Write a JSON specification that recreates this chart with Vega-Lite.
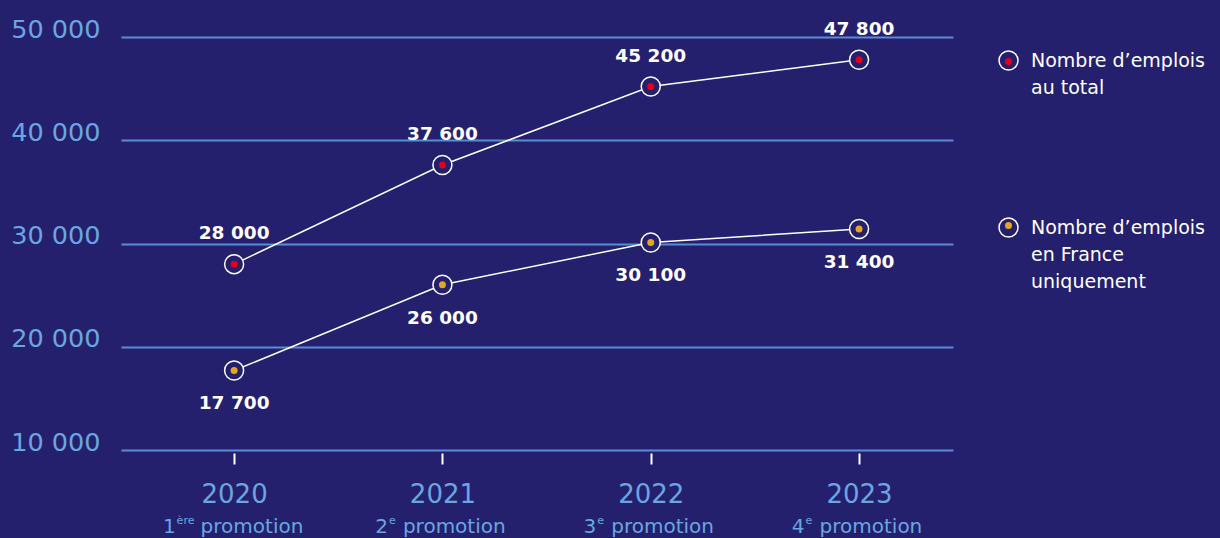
{
  "$schema": "https://vega.github.io/schema/vega-lite/v6.json",
  "width": 832,
  "height": 413,
  "autosize": {"type": "none"},
  "padding": {"left": 121, "top": 37, "right": 267, "bottom": 88},
  "background": "#24206e",
  "config": {
    "view": {"stroke": null},
    "font": "DejaVu Sans",
    "locale": {"number": {"decimal": ",", "thousands": " ", "grouping": [3], "currency": ["", " €"]}},
    "style": {"guide-label": {"lineHeight": 27}}
  },
  "data": {
    "values": [
      {"year": 2020, "series": "Nombre d’emplois au total", "value": 28000},
      {"year": 2021, "series": "Nombre d’emplois au total", "value": 37600},
      {"year": 2022, "series": "Nombre d’emplois au total", "value": 45200},
      {"year": 2023, "series": "Nombre d’emplois au total", "value": 47800},
      {"year": 2020, "series": "Nombre d’emplois en France uniquement", "value": 17700},
      {"year": 2021, "series": "Nombre d’emplois en France uniquement", "value": 26000},
      {"year": 2022, "series": "Nombre d’emplois en France uniquement", "value": 30100},
      {"year": 2023, "series": "Nombre d’emplois en France uniquement", "value": 31400}
    ]
  },
  "layer": [
    {
      "mark": {"type": "line", "color": "white", "strokeWidth": 1.5},
      "encoding": {
        "x": {
          "field": "year", "type": "quantitative",
          "scale": {"domain": [2019.457, 2023.451], "nice": false, "zero": false},
          "axis": {
            "orient": "bottom",
            "values": [2020, 2021, 2022, 2023], "format": "d", "title": null,
            "domain": false, "grid": false, "ticks": true, "tickColor": "white",
            "tickWidth": 2, "tickSize": 11, "offset": 3, "labelFontSize": 26,
            "labelColor": "#6aa6e0", "labelBaseline": "alphabetic", "labelPadding": 38,
            "labelFlush": false
          }
        },
        "y": {
          "field": "value", "type": "quantitative",
          "scale": {"domain": [10000, 50000], "nice": false},
          "axis": {
            "values": [10000, 20000, 30000, 40000, 50000], "format": ",d", "title": null,
            "domain": false, "ticks": false, "grid": true, "gridColor": "#5a8bd5",
            "gridWidth": 2, "labelFontSize": 25.5, "labelColor": "#6aa6e0",
            "labelPadding": 21, "labelBaseline": "alphabetic", "labelFlush": false
          }
        },
        "detail": {"field": "series", "type": "nominal"}
      }
    },
    {
      "mark": {"type": "point", "filled": true, "fill": "#24206e", "strokeWidth": 1.5, "size": 361, "opacity": 1},
      "encoding": {
        "x": {
          "field": "year", "type": "quantitative",
          "axis": {
            "orient": "bottom",
            "values": [2020, 2021, 2022, 2023], "labelExpr": "'' + (datum.value - 2019)",
            "title": null, "domain": false, "ticks": false, "grid": false,
            "labelFontSize": 20, "labelColor": "#6aa6e0", "labelAlign": "right",
            "labelBaseline": "alphabetic", "labelPadding": 82, "labelFlush": false,
            "labelOffset": {"condition": {"test": "datum.value == 2020", "value": -59}, "value": -55}
          }
        },
        "y": {"field": "value", "type": "quantitative"},
        "stroke": {
          "field": "series", "type": "nominal",
          "scale": {"domain": ["Nombre d’emplois au total", "Nombre d’emplois en France uniquement"], "range": ["white", "white"]},
          "legend": {
            "orient": "none", "legendX": 877, "legendY": 13, "title": null,
            "symbolType": "circle", "symbolSize": 361, "symbolStrokeWidth": 1.5,
            "symbolFillColor": "transparent", "labelColor": "white", "labelFontSize": 19,
            "labelLimit": 400, "labelOffset": 12, "rowPadding": 117,
            "labelExpr": "indexof(datum.label, 'total') >= 0 ? ['Nombre d’emplois', 'au total'] : ['Nombre d’emplois', 'en France', 'uniquement']"
          }
        }
      }
    },
    {
      "mark": {"type": "point", "filled": true, "size": 49, "opacity": 1},
      "encoding": {
        "x": {
          "field": "year", "type": "quantitative",
          "axis": {
            "orient": "bottom",
            "values": [2020, 2021, 2022, 2023],
            "labelExpr": "datum.value == 2020 ? 'ère' : 'e'",
            "title": null, "domain": false, "ticks": false, "grid": false,
            "labelFontSize": 11, "labelColor": "#6aa6e0", "labelAlign": "left",
            "labelBaseline": "alphabetic", "labelPadding": 73, "labelFlush": false,
            "labelOffset": {"condition": {"test": "datum.value == 2020", "value": -58}, "value": -54}
          }
        },
        "y": {"field": "value", "type": "quantitative"},
        "color": {
          "field": "series", "type": "nominal",
          "scale": {"range": ["#e2001a", "#e3a522"]},
          "legend": {
            "orient": "none", "legendX": 878, "legendY": 15, "title": null,
            "symbolType": "circle", "symbolSize": 49, "symbolStrokeWidth": 0,
            "labelColor": "transparent", "labelFontSize": 19,
            "labelLimit": 400, "labelOffset": 12, "rowPadding": 117,
            "labelExpr": "indexof(datum.label, 'total') >= 0 ? ['Nombre d’emplois', 'au total'] : ['Nombre d’emplois', 'en France', 'uniquement']"
          }
        }
      }
    },
    {
      "transform": [{"filter": "indexof(datum.series, 'total') >= 0"}],
      "mark": {"type": "text", "dy": -31, "fontSize": 18.5, "fontWeight": "bold", "color": "white", "baseline": "middle"},
      "encoding": {
        "x": {
          "field": "year", "type": "quantitative",
          "axis": {
            "orient": "bottom",
            "values": [2020, 2021, 2022, 2023], "labelExpr": "'promotion'",
            "title": null, "domain": false, "ticks": false, "grid": false,
            "labelFontSize": 20, "labelColor": "#6aa6e0", "labelAlign": "left",
            "labelBaseline": "alphabetic", "labelPadding": 82, "labelFlush": false,
            "labelOffset": {"condition": {"test": "datum.value == 2020", "value": -34}, "value": -40}
          }
        },
        "y": {"field": "value", "type": "quantitative"},
        "text": {"field": "value", "type": "quantitative", "format": ",d"}
      }
    },
    {
      "transform": [{"filter": "indexof(datum.series, 'France') >= 0"}],
      "mark": {"type": "text", "dy": 33, "fontSize": 18.5, "fontWeight": "bold", "color": "white", "baseline": "middle"},
      "encoding": {
        "x": {"field": "year", "type": "quantitative", "axis": null},
        "y": {"field": "value", "type": "quantitative"},
        "text": {"field": "value", "type": "quantitative", "format": ",d"}
      }
    }
  ],
  "resolve": {"axis": {"x": "independent"}}
}
